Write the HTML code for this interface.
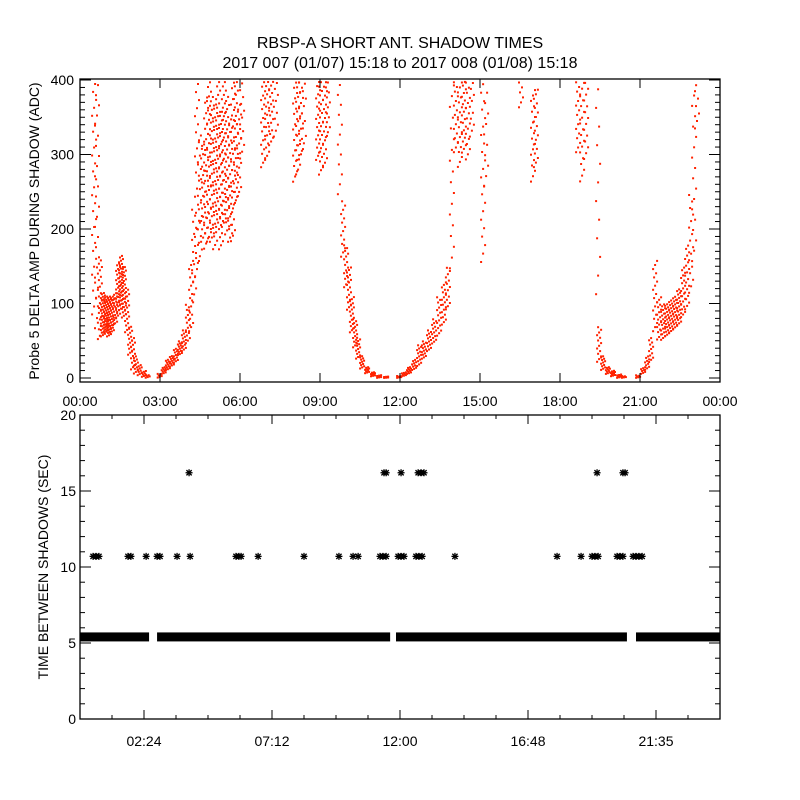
<!DOCTYPE html>
<html><head><meta charset="utf-8"><style>
body{margin:0;background:#fff}
svg{display:block;font-family:"Liberation Sans",sans-serif}
</style></head><body>
<svg id="chart" width="800" height="800" viewBox="0 0 800 800">
<rect width="800" height="800" fill="#fff"/>
<text x="400" y="48" text-anchor="middle" font-size="16">RBSP-A SHORT ANT. SHADOW TIMES</text>
<text x="400" y="68" text-anchor="middle" font-size="16">2017 007 (01/07) 15:18 to 2017 008 (01/08) 15:18</text>
<text transform="translate(39,231) rotate(-90)" text-anchor="middle" font-size="14">Probe 5 DELTA AMP DURING SHADOW (ADC)</text>
<text transform="translate(48,567) rotate(-90)" text-anchor="middle" font-size="14">TIME BETWEEN SHADOWS (SEC)</text>
<g id="topPanel"></g>
<g id="botPanel"></g>
</svg>
<script>
// Top panel: columns of dots [hour, low ADC, high ADC, dot count]
const ampHours=[0.49,0.6,0.71,0.82,0.94,1.05,1.16,1.28,1.39,1.5,1.61,1.73,1.84,1.95,2.06,2.2,2.36,2.5,2.95,3.1,3.26,3.41,3.56,3.71,3.86,4.01,4.13,4.24,4.35,4.46,4.58,4.69,4.8,4.91,5.03,5.14,5.25,5.36,5.48,5.59,5.7,5.81,5.93,6.04,6.83,6.98,7.13,7.31,8.03,8.14,8.25,8.36,8.89,9.0,9.15,9.26,9.71,9.83,9.94,10.05,10.16,10.28,10.39,10.54,10.73,10.95,11.18,11.44,11.93,12.11,12.3,12.49,12.68,12.86,13.05,13.24,13.43,13.61,13.76,13.91,14.06,14.21,14.36,14.51,14.66,15.08,15.19,16.5,16.95,17.06,18.64,18.79,18.94,19.39,19.43,19.58,19.76,19.95,20.18,20.36,20.89,21.08,21.23,21.38,21.53,21.68,21.83,21.98,22.13,22.28,22.43,22.58,22.73,22.88,22.99,23.1];
const ampLow=[80,60,50,55,60,55,60,70,80,90,80,60,30,10,5,3,1,0,0,5,10,15,20,30,35,45,60,100,130,150,180,170,180,180,170,200,170,200,190,180,180,230,240,290,280,290,310,320,260,270,290,300,290,270,280,320,240,160,120,90,60,40,25,12,6,2,0,0,0,2,5,10,15,25,35,45,55,70,90,140,300,280,300,290,320,150,250,360,260,280,300,260,290,100,20,10,5,2,0,0,0,5,10,20,60,50,50,55,60,65,70,80,90,110,150,330];
const ampHigh=[400,400,160,115,110,110,110,115,155,165,150,120,70,55,30,18,10,5,6,15,25,30,40,50,65,100,160,230,400,330,320,380,400,380,370,400,360,400,380,350,400,400,370,400,400,400,400,400,400,400,400,400,400,400,400,400,400,240,180,150,110,80,55,30,15,8,4,2,3,8,15,25,45,50,65,80,110,130,150,400,400,400,400,400,400,400,390,400,390,390,400,400,400,400,70,30,15,10,5,3,4,15,30,55,160,110,100,100,105,110,120,150,180,250,400,390];
const ampCount=[30,25,25,35,35,35,30,20,30,35,30,20,15,15,12,10,8,6,6,10,12,12,12,14,14,16,18,16,25,20,25,30,35,35,35,35,35,35,35,30,30,30,20,12,20,20,18,10,20,20,16,10,20,22,20,12,12,14,16,18,18,16,14,12,10,10,8,8,6,8,10,10,14,14,14,14,16,18,14,18,16,18,20,16,10,22,10,6,18,18,16,18,14,12,14,12,10,10,8,6,6,8,10,12,18,18,20,22,22,22,22,20,20,16,18,6];
const ampYTicks=[0,100,200,300,400];
const ampXTickLabels=["00:00","03:00","06:00","09:00","12:00","15:00","18:00","21:00","00:00"];
// Bottom panel
const bandSegments=[[0,2.59],[2.89,11.63],[11.85,20.51],[20.85,24]];
const bandValue=5.4;
const row10Hours=[0.49,0.6,0.71,1.8,1.91,2.48,2.89,3.0,3.64,4.13,5.85,5.96,6.04,6.68,8.4,9.71,10.24,10.43,11.25,11.36,11.48,11.93,12.04,12.15,12.6,12.71,12.83,14.06,17.89,18.79,19.2,19.31,19.43,20.14,20.25,20.36,20.74,20.85,20.96,21.08];
const row10Value=10.7;
const row16Hours=[4.09,11.4,11.48,12.04,12.68,12.79,12.9,19.39,20.36,20.44];
const row16Value=16.2;
const intYTicks=[0,5,10,15,20];
const intXTickHours=[2.4,7.2,12,16.8,21.6];
const intXTickLabels=["02:24","07:12","12:00","16:48","21:35"];

const NS="http://www.w3.org/2000/svg";
function mk(parent,tag,attrs){const e=document.createElementNS(NS,tag);for(const k in attrs)e.setAttribute(k,attrs[k]);parent.appendChild(e);return e;}
const X0=80,X1=720;
const xs=h=>X0+h/24*(X1-X0);
const T0=79,T1=382, yTop=v=>378-v*0.745;
const B0=415,B1=719, yBot=v=>B1-v*(B1-B0)/20;
const topG=document.getElementById('topPanel'), botG=document.getElementById('botPanel');

// top dots
for(let c=0;c<ampHours.length;c++){
  const n=ampCount[c];
  for(let i=0;i<n;i++){
    const v=ampLow[c]+(ampHigh[c]-ampLow[c])*(i+0.5)/n;
    const d=mk(topG,'rect',{x:(xs(ampHours[c])+((i*7)%5)-2).toFixed(1),y:(yTop(v)-1).toFixed(1),width:2,height:2,fill:'#ff2200'});
    
    
  }
}
// top frame
const tf=mk(topG,'rect',{x:X0,y:T0,width:X1-X0,height:T1-T0,fill:'none',stroke:'#000','stroke-width':1.3});


for(let v=0;v<=400;v+=10){
  const L=(v%100===0)?11:5,y=yTop(v);
  mk(topG,'line',{x1:X0,x2:X0+L,y1:y,y2:y,stroke:'#000'});
  mk(topG,'line',{x1:X1,x2:X1-L,y1:y,y2:y,stroke:'#000'});
}
ampYTicks.forEach(v=>{const t=mk(topG,'text',{x:74,y:yTop(v)+5,'text-anchor':'end','font-size':14});t.textContent=v;
 
 });
ampXTickLabels.forEach((s,i)=>{const x=xs(i*3);
 mk(topG,'line',{x1:x,x2:x,y1:T0,y2:T0+9,stroke:'#000'});mk(topG,'line',{x1:x,x2:x,y1:T1,y2:T1-9,stroke:'#000'});
 const t=mk(topG,'text',{x:x,y:406,'text-anchor':'middle','font-size':14});t.textContent=s;
 
 });

// bottom band
bandSegments.forEach(s=>{const r=mk(botG,'rect',{x:xs(s[0]),y:yBot(bandValue)-4.5,width:xs(s[1])-xs(s[0]),height:9,fill:'#000'});
 
 });
function star(h,v){const g=mk(botG,'g',{stroke:'#000','stroke-width':1.3});
 
 
 const x=xs(h),y=yBot(v),r=3.5;
 mk(g,'line',{x1:x-r,x2:x+r,y1:y,y2:y});mk(g,'line',{x1:x,x2:x,y1:y-r,y2:y+r});
 mk(g,'line',{x1:x-r*0.75,x2:x+r*0.75,y1:y-r*0.75,y2:y+r*0.75});mk(g,'line',{x1:x-r*0.75,x2:x+r*0.75,y1:y+r*0.75,y2:y-r*0.75});}
row10Hours.forEach(h=>star(h,row10Value));
row16Hours.forEach(h=>star(h,row16Value));
const bf=mk(botG,'rect',{x:X0,y:B0,width:X1-X0,height:B1-B0,fill:'none',stroke:'#000','stroke-width':1.3});


for(let v=0;v<=20;v++){const L=(v%5===0)?11:5,y=yBot(v);
 mk(botG,'line',{x1:X0,x2:X0+L,y1:y,y2:y,stroke:'#000'});mk(botG,'line',{x1:X1,x2:X1-L,y1:y,y2:y,stroke:'#000'});}
intYTicks.forEach(v=>{const t=mk(botG,'text',{x:76,y:yBot(v)+5,'text-anchor':'end','font-size':14});t.textContent=v;
 
 });
for(let h=1.2;h<24;h+=1.2){const major=Math.abs(((h-2.4)/4.8)-Math.round((h-2.4)/4.8))<0.01,L=major?9:4,x=xs(h);
 mk(botG,'line',{x1:x,x2:x,y1:B1,y2:B1-L,stroke:'#000'});mk(botG,'line',{x1:x,x2:x,y1:B0,y2:B0+L,stroke:'#000'});}
intXTickHours.forEach((h,i)=>{const t=mk(botG,'text',{x:xs(h),y:746,'text-anchor':'middle','font-size':14});t.textContent=intXTickLabels[i];
 
 });
</script>
</body></html>
